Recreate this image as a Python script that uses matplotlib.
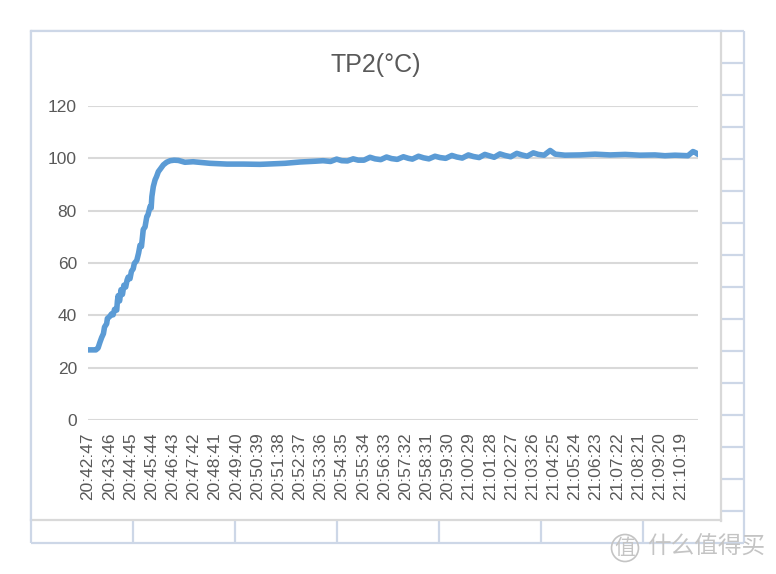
import matplotlib
matplotlib.use('Agg')
import matplotlib.pyplot as plt
from matplotlib.patches import Rectangle

# TP2 readings: seconds elapsed since 20:42:47, temperature in degC
elapsed_s = [0, 22, 28, 33, 38, 43, 46, 52, 54, 60,
             66, 70, 74, 80, 82, 84, 88, 92, 96, 100,
             105, 109, 112, 117, 121, 126, 129, 136, 141, 145,
             149, 154, 159, 164, 167, 173, 176, 178, 182, 187,
             191, 196, 202, 210, 219, 229, 240, 252,
             270, 293, 340, 387, 433, 479, 498, 549, 591, 633, 655,
             676, 693, 707, 723, 739, 753, 769, 786, 800,
             816, 832, 846, 862, 879, 893, 904, 921, 935,
             950, 967, 981, 997, 1014, 1028, 1043, 1060, 1074,
             1090, 1106, 1120, 1132, 1148, 1162, 1178, 1195, 1209,
             1224, 1241, 1255, 1271, 1288, 1302,
             1329, 1371, 1413, 1455, 1497, 1538, 1580, 1608, 1636,
             1672, 1686, 1694, 1700]
tp2_temp = [26.8, 26.8, 27.5, 29.6, 31.5, 33.0, 35.5, 36.8, 38.8, 39.5,
            40.6, 40.2, 42.3, 42.0, 45.5, 47.5, 45.5, 49.8, 48.0, 51.5,
            50.8, 53.5, 54.6, 54.0, 56.8, 57.8, 59.8, 61.0, 63.8, 66.8,
            66.3, 72.8, 73.8, 77.8, 78.3, 81.6, 81.0, 85.4, 89.2, 91.8,
            93.0, 94.9, 96.0, 97.5, 98.5, 99.1, 99.3, 99.2,
            98.5, 98.7, 98.1, 97.8, 97.8, 97.7, 97.8, 98.1, 98.6, 98.9, 99.1,
            98.8, 99.7, 99.1, 99.0, 99.8, 99.3, 99.3, 100.4, 99.8,
            99.5, 100.5, 99.9, 99.6, 100.6, 100.0, 99.7, 100.8, 100.2,
            99.8, 100.8, 100.3, 100.0, 101.1, 100.5, 100.1, 101.3, 100.7,
            100.3, 101.5, 100.9, 100.4, 101.7, 101.1, 100.6, 101.9, 101.3,
            100.8, 102.1, 101.5, 101.2, 103.0, 101.6,
            101.2, 101.3, 101.6, 101.3, 101.5, 101.2, 101.3, 101.0, 101.2,
            101.0, 102.6, 102.1, 101.5]

tick_labels = ['20:42:47', '20:43:46', '20:44:45', '20:45:44', '20:46:43',
               '20:47:42', '20:48:41', '20:49:40', '20:50:39', '20:51:38',
               '20:52:37', '20:53:36', '20:54:35', '20:55:34', '20:56:33',
               '20:57:32', '20:58:31', '20:59:30', '21:00:29', '21:01:28',
               '21:02:27', '21:03:26', '21:04:25', '21:05:24', '21:06:23',
               '21:07:22', '21:08:21', '21:09:20', '21:10:19']
y_ticks = [0, 20, 40, 60, 80, 100, 120]


def to_sec(s):
    h, m, sec = [int(p) for p in s.split(':')]
    return h * 3600 + m * 60 + sec


t0 = to_sec(tick_labels[0])
tick_pos = [to_sec(s) - t0 for s in tick_labels]

plt.rcParams['font.family'] = ['Liberation Sans', 'DejaVu Sans']
W, H = 776, 574
fig = plt.figure(figsize=(W / 100, H / 100), dpi=100)

# spreadsheet background (pixel coords)
bg = fig.add_axes([0, 0, 1, 1])
bg.set_xlim(0, W)
bg.set_ylim(H, 0)
bg.axis('off')
sheet = '#cdd7e7'
for k in range(17):
    y = 31 + 32 * k
    bg.plot([31, 744], [y, y], color=sheet, lw=1.6, solid_capstyle='butt')
for x in [31, 133, 235, 337, 439, 541, 643, 744]:
    bg.plot([x, x], [31, 543], color=sheet, lw=1.6, solid_capstyle='butt')
# chart box
bg.add_patch(Rectangle((31, 31), 690, 489, facecolor='white', edgecolor='none', zorder=3))
bg.plot([721, 721], [31, 521], color='#d9d9d9', lw=1.6, zorder=4)
bg.plot([31, 721], [520, 520], color='#d9d9d9', lw=1.6, zorder=4)
bg.plot([31, 31], [31, 520], color=sheet, lw=1.6, zorder=4)
bg.plot([31, 721], [31, 31], color=sheet, lw=1.6, zorder=4)

# watermark
bg.text(625, 548, '值', fontsize=15, color='#c4c4c4', ha='center', va='center',
        family=['Noto Sans CJK SC', 'DejaVu Sans'], zorder=5,
        bbox=dict(boxstyle='circle,pad=0.12', fc='none', ec='#c4c4c4', lw=1.2))
bg.text(706, 547, '什么值得买', fontsize=17, color='#c4c4c4', ha='center', va='center',
        family=['Noto Sans CJK SC', 'DejaVu Sans'], zorder=5)

# plot area
ax = fig.add_axes([88 / W, 1 - 420 / H, 610 / W, 314 / H])
ax.set_zorder(2)
ax.patch.set_visible(False)
ax.plot(elapsed_s, tp2_temp, color='#5b9bd5', lw=4.0,
        solid_joinstyle='round', solid_capstyle='round', zorder=3)
ax.set_xlim(0, 1700)
ax.set_ylim(0, 120)
ax.set_yticks(y_ticks)
ax.set_xticks(tick_pos)
ax.set_xticklabels(tick_labels, rotation=90)
ax.grid(axis='y', color='#d9d9d9', lw=1.5)
ax.set_axisbelow(True)
for sp in ax.spines.values():
    sp.set_visible(False)
ax.tick_params(axis='both', length=0, labelsize=12.5, colors='#595959')
ax.tick_params(axis='x', pad=9)
ax.tick_params(axis='y', pad=8)

fig.text(376 / W, 1 - 65 / H, 'TP2(°C)', fontsize=18, color='#595959',
         ha='center', va='center')

fig.savefig('out.png', dpi=100)
